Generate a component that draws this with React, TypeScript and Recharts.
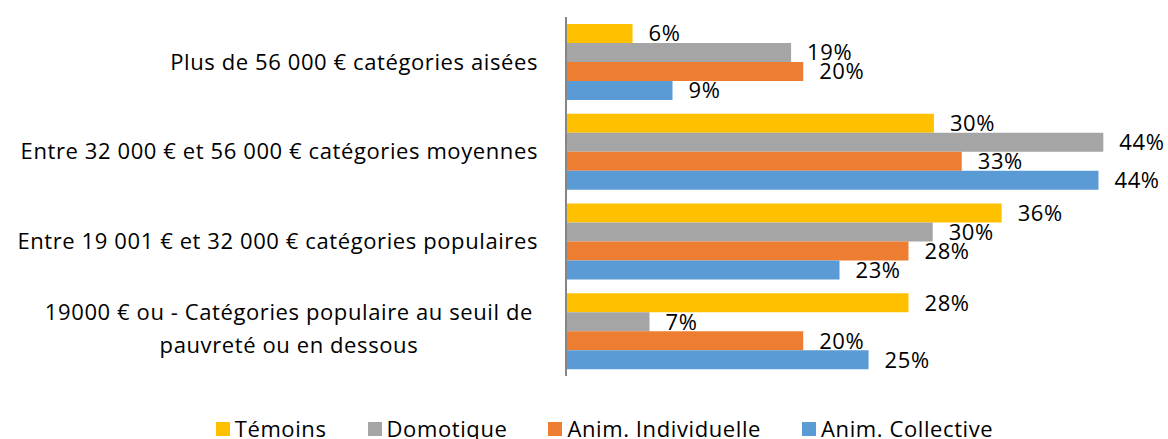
import React from "react";
import { BarChart, Bar, XAxis, YAxis, Legend, LabelList } from "recharts";

const categories = [
	"Plus de 56 000 € catégories aisées",
	"Entre 32 000 € et 56 000 € catégories moyennes",
	"Entre 19 001 € et 32 000 € catégories populaires",
	"19000 € ou - Catégories populaire au seuil de\npauvreté ou en dessous",
];
const temoins = [5.5, 30.4, 36.0, 28.3];
const domotique = [18.6, 44.4, 30.3, 6.9];
const animIndividuelle = [19.6, 32.7, 28.3, 19.6];
const animCollective = [8.8, 44.0, 22.6, 25.0];

const series = [
	{ key: "temoins", name: "Témoins", color: "#FFC000", values: temoins },
	{ key: "domotique", name: "Domotique", color: "#A5A5A5", values: domotique },
	{ key: "individuelle", name: "Anim. Individuelle", color: "#ED7D31", values: animIndividuelle },
	{ key: "collective", name: "Anim. Collective", color: "#5B9BD5", values: animCollective },
];

const data = categories.map((name, i) => {
	const row: Record<string, string | number> = { name };
	series.forEach((s) => (row[s.key] = s.values[i]));
	return row;
});

const FONT = "'Open Sans', Lato, sans-serif";
const FONT_SIZE = 22;
const SPACING = 0.6;
const LABEL_RIGHT = 538;
const LINE_HEIGHT = 33;

let ctx: CanvasRenderingContext2D | null = null;
function textWidth(t: string) {
	if (!ctx) ctx = document.createElement("canvas").getContext("2d");
	if (!ctx) return t.length * FONT_SIZE * 0.56;
	ctx.font = `${FONT_SIZE}px 'Open Sans'`;
	return ctx.measureText(t).width + t.length * SPACING;
}

function CategoryTick(props: any) {
	const { y, payload } = props;
	const lines: string[] = String(payload.value).split("\n");
	if (lines.length === 1) {
		return (
			<text x={LABEL_RIGHT} y={y} dy="0.35em" textAnchor="end" fontSize={FONT_SIZE} fill="#000" fontFamily={FONT} letterSpacing={SPACING}>
				{lines[0]}
			</text>
		);
	}
	const maxW = Math.max(...lines.map(textWidth));
	const cx = LABEL_RIGHT - 5 - maxW / 2;
	const startY = y - ((lines.length - 1) * LINE_HEIGHT) / 2 - 2;
	return (
		<text textAnchor="middle" fontSize={FONT_SIZE} fill="#000" fontFamily={FONT} letterSpacing={SPACING}>
			{lines.map((l, i) => (
				<tspan key={i} x={cx} y={startY + i * LINE_HEIGHT} dy="0.35em">
					{l}
				</tspan>
			))}
		</text>
	);
}

function LegendContent() {
	return (
		<div
			style={{
				height: 63,
				display: "flex",
				justifyContent: "center",
				paddingTop: 41,
				paddingLeft: 50,
				boxSizing: "border-box",
				fontFamily: FONT,
				fontSize: FONT_SIZE,
				letterSpacing: SPACING,
				lineHeight: "22px",
				color: "#000",
			}}
		>
			{series.map((s, i) => (
				<div key={s.key} style={{ display: "flex", alignItems: "center", marginLeft: i === 0 ? 0 : 41 }}>
					<span style={{ width: 14, height: 14, background: s.color, marginRight: 5, display: "inline-block", marginTop: 2 }} />
					<span>{s.name}</span>
				</div>
			))}
		</div>
	);
}

export default function App() {
	return (
		<div style={{ position: "absolute", left: 0, top: 0, background: "#fff" }}>
			<BarChart
				width={1168}
				height={439}
				data={data}
				layout="vertical"
				margin={{ top: 17, right: 9, bottom: 0, left: 0 }}
				barCategoryGap={7}
				barGap={0}
			>
				<XAxis type="number" domain={[0, 49]} hide />
				<YAxis
					type="category"
					dataKey="name"
					width={566}
					tickLine={false}
					axisLine={{ stroke: "#868686", strokeWidth: 2 }}
					tick={<CategoryTick />}
					interval={0}
				/>
				<Legend verticalAlign="bottom" content={<LegendContent />} />
				{series.map((s) => (
					<Bar key={s.key} dataKey={s.key} name={s.name} fill={s.color} isAnimationActive={false}>
						<LabelList
							dataKey={s.key}
							position="right"
							offset={16}
							formatter={(v: any) => `${Math.round(Number(v))}%`}
							fontSize={FONT_SIZE}
							fill="#000"
							fontFamily={FONT}
							letterSpacing={SPACING}
						/>
					</Bar>
				))}
			</BarChart>
		</div>
	);
}
